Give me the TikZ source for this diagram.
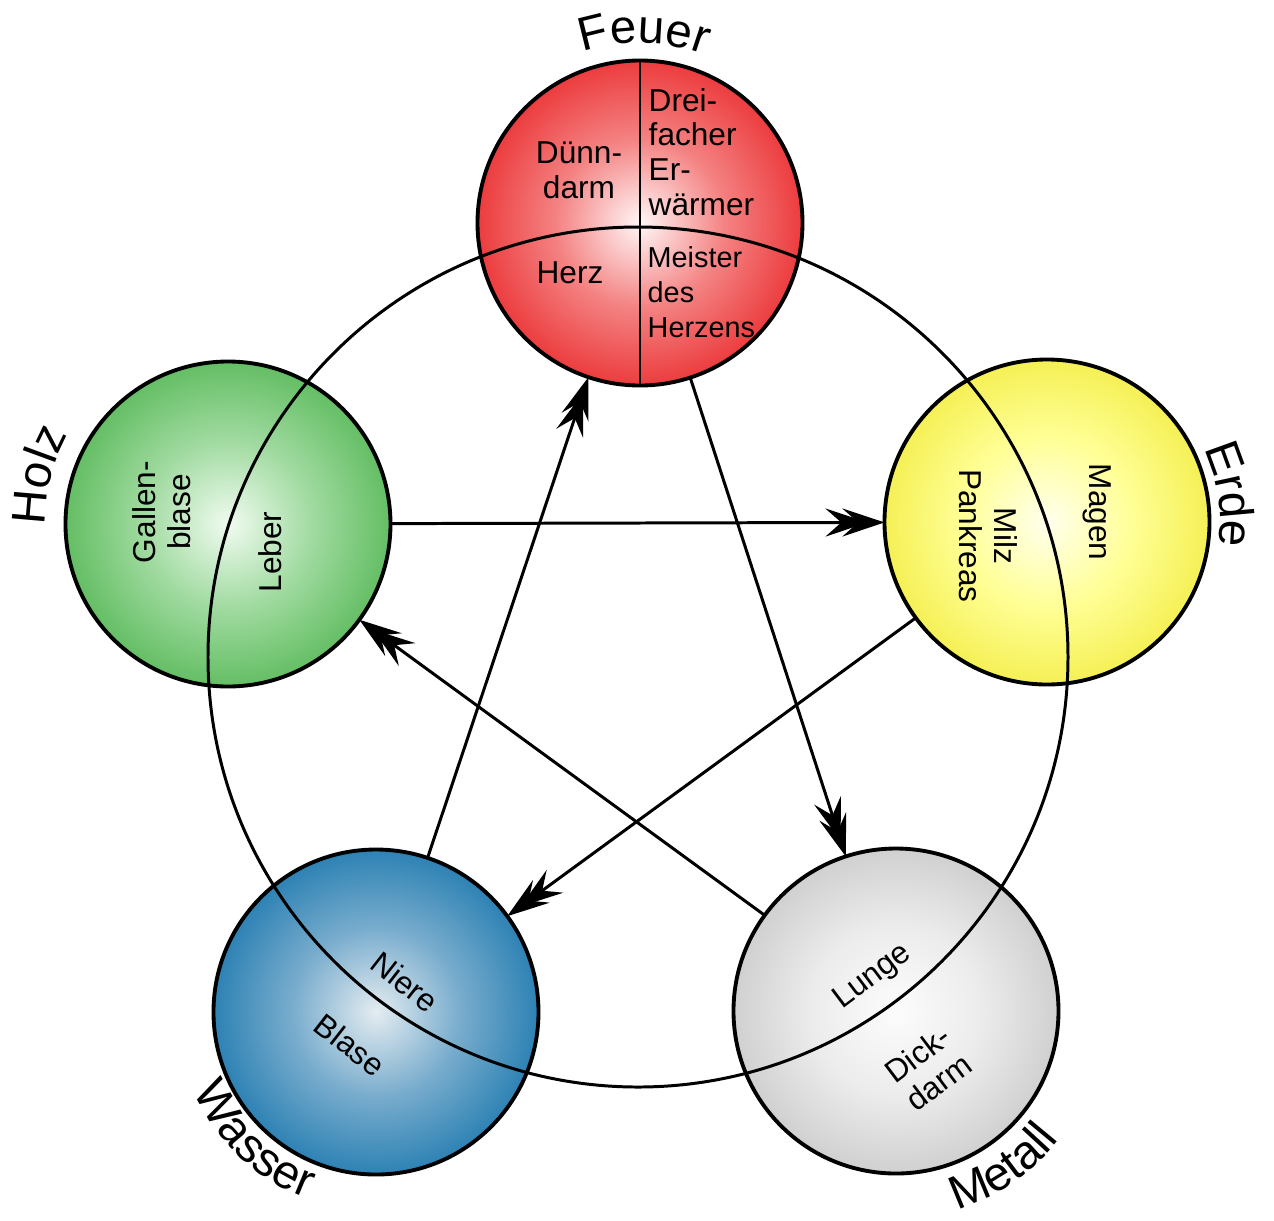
\documentclass[tikz,border=0pt]{standalone}
\usepackage{fontspec}
\setmainfont{Liberation Sans}
\usetikzlibrary{arrows.meta,decorations.text}
\definecolor{fireI}{RGB}{255,246,246}
\definecolor{fireM}{RGB}{244,130,130}
\definecolor{fireO}{RGB}{236,60,62}
\definecolor{woodI}{RGB}{240,251,240}
\definecolor{woodM}{RGB}{160,218,160}
\definecolor{woodO}{RGB}{100,190,100}
\definecolor{earthI}{RGB}{255,255,238}
\definecolor{earthM}{RGB}{255,255,150}
\definecolor{earthO}{RGB}{245,240,85}
\definecolor{waterI}{RGB}{228,236,240}
\definecolor{waterM}{RGB}{120,172,205}
\definecolor{waterO}{RGB}{45,130,180}
\definecolor{metalI}{RGB}{252,252,252}
\definecolor{metalM}{RGB}{236,236,236}
\definecolor{metalO}{RGB}{208,208,208}
\pgfdeclareradialshading{fireshade}{\pgfpoint{0bp}{0bp}}{color(0bp)=(fireI); color(13bp)=(fireM); color(25bp)=(fireO); color(50bp)=(fireO)}
\pgfdeclareradialshading{woodshade}{\pgfpoint{0bp}{0bp}}{color(0bp)=(woodI); color(13bp)=(woodM); color(25bp)=(woodO); color(50bp)=(woodO)}
\pgfdeclareradialshading{earthshade}{\pgfpoint{0bp}{0bp}}{color(0bp)=(earthI); color(13bp)=(earthM); color(25bp)=(earthO); color(50bp)=(earthO)}
\pgfdeclareradialshading{watershade}{\pgfpoint{0bp}{0bp}}{color(0bp)=(waterI); color(13bp)=(waterM); color(25bp)=(waterO); color(50bp)=(waterO)}
\pgfdeclareradialshading{metalshade}{\pgfpoint{0bp}{0bp}}{color(0bp)=(metalI); color(13bp)=(metalM); color(25bp)=(metalO); color(50bp)=(metalO)}
\newcommand\elemfont{\fontsize{13.5}{16}\selectfont}
\begin{document}
\begin{tikzpicture}[
  orb/.style={circle, minimum size=3.25cm, inner sep=0pt, outer sep=0pt, draw=black, line width=1.1pt},
  organ/.style={font=\fontsize{9}{9.9}\selectfont, align=center, inner sep=0pt},
  organl/.style={organ, align=left, anchor=west},
  ring/.style={line width=0.85pt},
  arr/.style={line width=0.85pt, -{Stealth[length=12pt,width=8pt,inset=4.5pt,sep=-7.2pt]Stealth[length=12pt,width=8pt,inset=4.5pt]}}
]
\fill[white] (-6.38,-5.63) rectangle (6.36,6.57);
\useasboundingbox (-6.38,-5.63) rectangle (6.36,6.57);

% element circles
\node[orb, shading=fireshade]  (F) at (0.02,4.34) {};
\node[orb, shading=woodshade]  (H) at (-4.10,1.33) {};
\node[orb, shading=earthshade] (E) at (4.09,1.35) {};
\node[orb, shading=watershade] (W) at (-2.62,-3.55) {};
\node[orb, shading=metalshade] (M) at (2.58,-3.54) {};

% big ring and Feuer divider
\coordinate (O) at (0,0);
\draw[ring] (O) circle[radius=4.30];
\draw[ring] (F.north) -- (F.south);

% organ texts
\node[organ] (fdd) at (-0.59,4.87) {Dünn-\\darm};
\node[organl] (fdf) at (0.10,5.05) {Drei-\\facher\\Er-\\wärmer};
\node[organ] (fhz) at (-0.68,3.84) {Herz};
\node[organl, font=\fontsize{8.2}{9.9}\selectfont] (fmh) at (0.09,3.65) {Meister\\des\\Herzens};
\node[organ, rotate=90] (hgb) at (-4.76,1.45) {Gallen-\\blase};
\node[organ, rotate=90] (hlb) at (-3.68,1.05) {Leber};
\node[organ, rotate=-90] (emp) at (3.50,1.21) {Milz\\Pankreas};
\node[organ, rotate=-90] (emg) at (4.59,1.45) {Magen};
\node[organ, rotate=-38] (wni) at (-2.33,-3.25) {Niere};
\node[organ, rotate=-38] (wbl) at (-2.88,-3.88) {Blase};
\node[organ, rotate=37] (mlu) at (2.35,-3.20) {Lunge};
\node[organ, rotate=37] (mdd) at (2.90,-4.11) {Dick-\\darm};

% control cycle arrows
\draw[arr] (H) -- (E);
\draw[arr] (E) -- (W);
\draw[arr] (W) -- (F);
\draw[arr] (F) -- (M);
\draw[arr] (M) -- (H);

% element labels along arcs round their circles
\path[shift={(F.center)}, decoration={text along path, text={|\elemfont|Feuer}, text align=center}, decorate]
  (128.7:1.80) arc[start angle=128.7, end angle=48.7, radius=1.80];
\path[shift={(H.center)}, decoration={text along path, text={|\elemfont|Holz}, text align=center}, decorate]
  (205.6:1.83) arc[start angle=205.6, end angle=125.6, radius=1.83];
\path[shift={(E.center)}, decoration={text along path, text={|\elemfont|Erde}, text align=center}, decorate]
  (48.6:1.73) arc[start angle=48.6, end angle=-31.4, radius=1.73];
\path[shift={(W.center)}, decoration={text along path, text={|\elemfont|Wasser}, text align=center}, decorate]
  (186.5:1.99) arc[start angle=186.5, end angle=266.5, radius=1.99];
\path[shift={(M.center)}, decoration={text along path, text={|\elemfont|Metall}, text align=center}, decorate]
  (264.4:2.08) arc[start angle=264.4, end angle=344.4, radius=2.08];
\end{tikzpicture}
\end{document}
